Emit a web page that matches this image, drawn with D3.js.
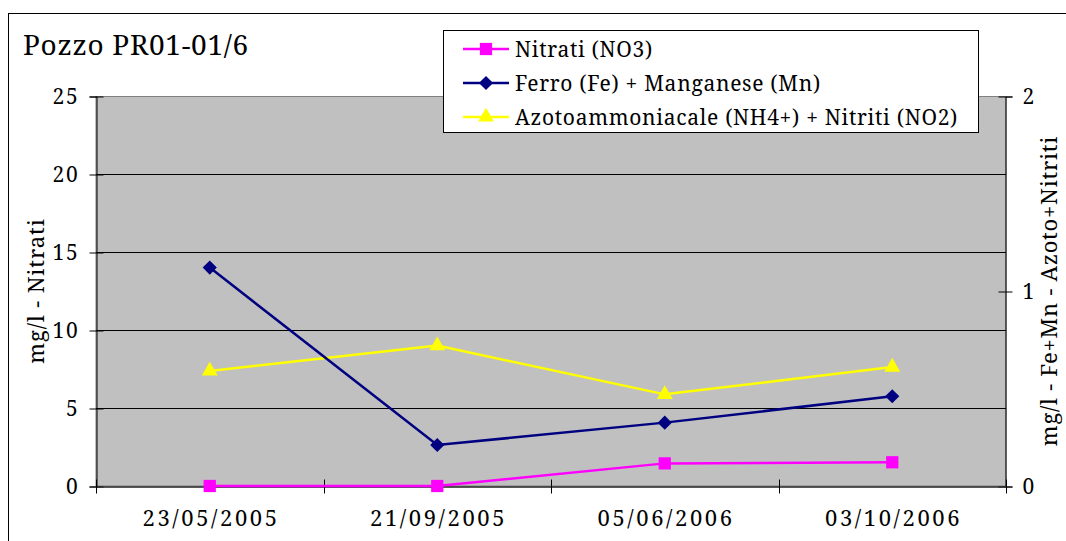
<!DOCTYPE html>
<html>
<head>
<meta charset="utf-8">
<script src="https://cdn.jsdelivr.net/npm/d3@7"></script>
<style>
  html, body { margin: 0; padding: 0; background: #ffffff; }
  svg { display: block; }
  text { font-family: "Noto Serif", serif; fill: #000; }
</style>
</head>
<body>
<svg id="chart" width="1066" height="541"></svg>
<script>
const categories = ["23/05/2005", "21/09/2005", "05/06/2006", "03/10/2006"];
const nitrati = [0, 0, 1.45, 1.52];
const ferroMn = [1.12, 0.21, 0.325, 0.46];
const azoto = [0.59, 0.72, 0.47, 0.61];
const leftTicks = [0, 5, 10, 15, 20, 25];
const rightTicks = [0, 1, 2];
const seriesNames = ["Nitrati (NO3)", "Ferro (Fe) + Manganese (Mn)", "Azotoammoniacale (NH4+) + Nitriti (NO2)"];
const titleText = "Pozzo PR01-01/6";
const leftTitle = "mg/l - Nitrati";
const rightTitle = "mg/l - Fe+Mn - Azoto+Nitriti";

const FONT = "Noto Serif";
const svg = d3.select("#chart");
const W = 1066, H = 541;
const plot = { left: 96, right: 1006, top: 96, bottom: 486 };

// outer chart border
svg.append("rect")
  .attr("x", 8.5).attr("y", 13.5)
  .attr("width", W + 20).attr("height", H + 20)
  .attr("fill", "#fff").attr("stroke", "#000").attr("stroke-width", 1);

const x = d3.scaleBand().domain(categories).range([plot.left, plot.right]);
const yL = d3.scaleLinear().domain([0, 25]).range([plot.bottom, plot.top]);
const yR = d3.scaleLinear().domain([0, 2]).range([plot.bottom, plot.top]);
const cx = d => x(d) + x.bandwidth() / 2;

// plot area
svg.append("rect")
  .attr("x", plot.left).attr("y", plot.top + 0.5)
  .attr("width", plot.right - plot.left).attr("height", plot.bottom - plot.top - 0.5)
  .attr("fill", "#c0c0c0").attr("stroke", "#808080").attr("stroke-width", 1);

// gridlines
svg.append("g").selectAll("line")
  .data(leftTicks.filter(t => t > 0 && t < 25))
  .join("line")
  .attr("x1", plot.left).attr("x2", plot.right)
  .attr("y1", d => Math.round(yL(d)) + 0.5).attr("y2", d => Math.round(yL(d)) + 0.5)
  .attr("stroke", "#000").attr("stroke-width", 1);

// left axis
const gL = svg.append("g")
  .attr("transform", `translate(${plot.left + 0.5},0.5)`)
  .call(d3.axisLeft(yL).tickValues(leftTicks).tickSize(7).tickPadding(10).tickFormat(d3.format("d")));
gL.select(".domain").attr("stroke", "#000");
gL.selectAll(".tick line").attr("x1", 7).attr("stroke", "#000");
gL.selectAll(".tick text").style("font-family", FONT).style("font-size", "21px").attr("letter-spacing", "1.7px").attr("fill", "#000");

// right axis
const gR = svg.append("g")
  .attr("transform", `translate(${plot.right - 0.5},0.5)`)
  .call(d3.axisRight(yR).tickValues(rightTicks).tickSize(7).tickPadding(10).tickFormat(d3.format("d")));
gR.select(".domain").attr("stroke", "#000");
gR.selectAll(".tick line").attr("x1", -7).attr("stroke", "#000");
gR.selectAll(".tick text").style("font-family", FONT).style("font-size", "21px").attr("fill", "#000");

// bottom axis (labels centred, ticks on band boundaries)
const gB = svg.append("g")
  .attr("transform", `translate(0,${plot.bottom + 0.5})`)
  .call(d3.axisBottom(x).tickSize(0).tickPadding(24));
gB.select(".domain").attr("stroke", "#202020").attr("stroke-width", 1.5);
gB.selectAll(".tick text").style("font-family", FONT).style("font-size", "22px").attr("letter-spacing", "2.6px").attr("dx", "1.3px").attr("fill", "#000");
const bounds = categories.map(c => x(c)).concat([x.range()[1]]);
gB.append("g").selectAll("line").data(bounds).join("line")
  .attr("x1", d => Math.round(d) + 0.5).attr("x2", d => Math.round(d) + 0.5)
  .attr("y1", -7).attr("y2", 7).attr("stroke", "#000");

// series
const lineGen = (yScale) => d3.line().x((d, i) => cx(categories[i])).y(d => yScale(d));
const series = [
  { name: seriesNames[2], values: azoto, scale: yR, color: "#ffff00", marker: "triangle" },
  { name: seriesNames[1], values: ferroMn, scale: yR, color: "#000080", marker: "diamond" },
  { name: seriesNames[0], values: nitrati, scale: yL, color: "#ff00ff", marker: "square" }
];

function drawMarker(g, type, color, px, py) {
  if (type === "diamond") {
    g.append("path")
      .attr("d", d3.symbol().type(d3.symbolSquare).size(100)())
      .attr("transform", `translate(${px},${py}) rotate(45)`)
      .attr("fill", color);
  } else if (type === "triangle") {
    g.append("path")
      .attr("d", d3.symbol().type(d3.symbolTriangle).size(110)())
      .attr("transform", `translate(${px},${py})`)
      .attr("fill", color);
  } else {
    g.append("path")
      .attr("d", d3.symbol().type(d3.symbolSquare).size(150)())
      .attr("transform", `translate(${px},${py})`)
      .attr("fill", color);
  }
}

series.forEach(s => {
  const g = svg.append("g");
  g.append("path")
    .datum(s.values)
    .attr("d", lineGen(s.scale))
    .attr("fill", "none").attr("stroke", s.color).attr("stroke-width", 2.5);
  s.values.forEach((v, i) => drawMarker(g, s.marker, s.color, cx(categories[i]), s.scale(v)));
});

// title
svg.append("text")
  .attr("x", 23).attr("y", 55)
  .style("font-size", "28px")
  .attr("letter-spacing", "0.7px")
  .text(titleText);

// axis titles
svg.append("text")
  .attr("transform", `translate(44,${(plot.top + plot.bottom) / 2}) rotate(-90)`)
  .attr("text-anchor", "middle")
  .style("font-size", "22px")
  .attr("letter-spacing", "0.9px")
  .text(leftTitle);
svg.append("text")
  .attr("transform", `translate(1057,${(plot.top + plot.bottom) / 2}) rotate(-90)`)
  .attr("text-anchor", "middle")
  .style("font-size", "22px")
  .attr("letter-spacing", "0.75px")
  .text(rightTitle);

// legend
const leg = svg.append("g");
leg.append("rect")
  .attr("x", 443.5).attr("y", 30.5).attr("width", 535).attr("height", 102)
  .attr("fill", "#fff").attr("stroke", "#000").attr("stroke-width", 1);
const legItems = [series[2], series[1], series[0]];
const legRowY = [49, 83, 117];
legItems.forEach((s, i) => {
  const yy = legRowY[i];
  leg.append("line").attr("x1", 463).attr("x2", 509).attr("y1", yy).attr("y2", yy)
    .attr("stroke", s.color).attr("stroke-width", 2.5);
  drawMarker(leg, s.marker, s.color, 486, yy);
  leg.append("text").attr("x", 515).attr("y", yy).attr("dy", "0.36em")
    .style("font-size", "21px").attr("letter-spacing", "0.7px")
    .text(s.name);
});
</script>
</body>
</html>
